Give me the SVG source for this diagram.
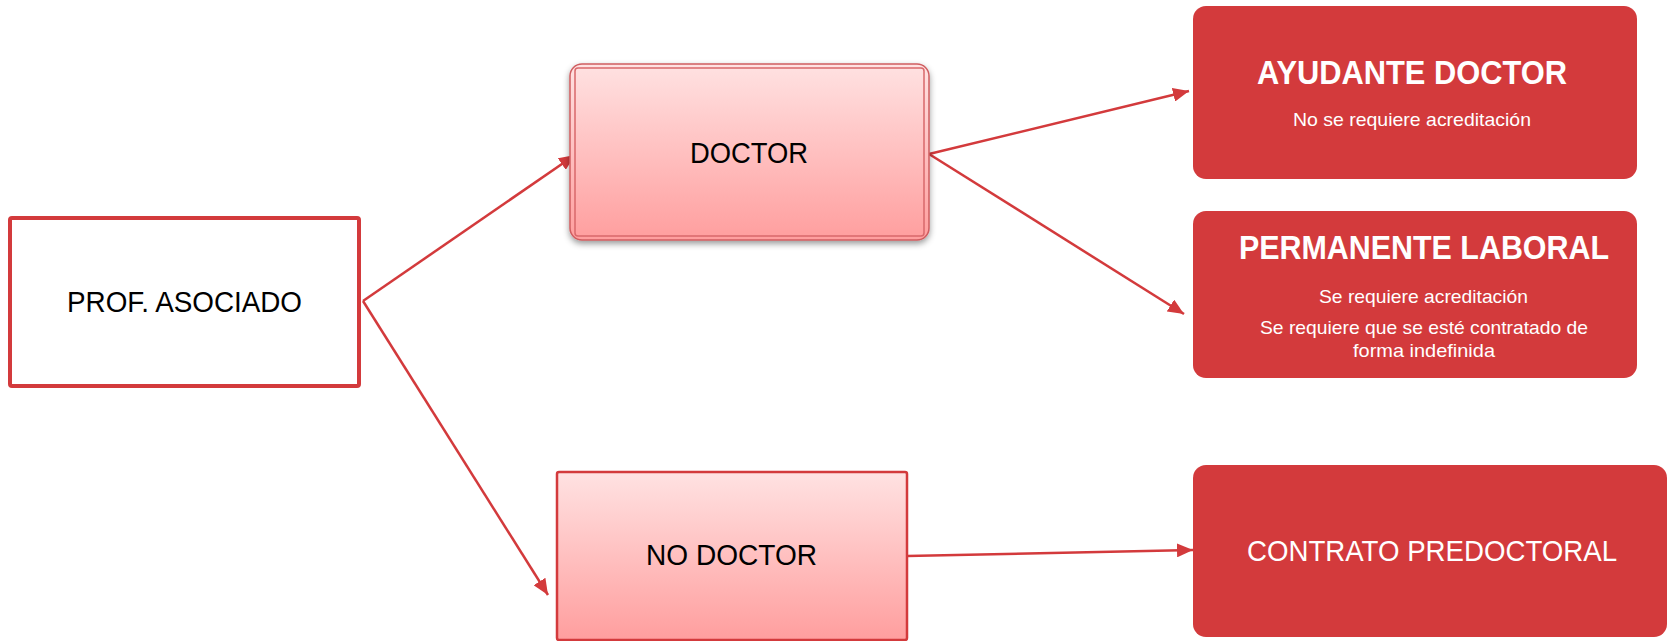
<svg xmlns="http://www.w3.org/2000/svg" width="1668" height="641" viewBox="0 0 1668 641">
  <style>
    .lbl { font-family: "Liberation Sans", Arial, sans-serif; fill: #000000; }
    .wt { font-family: "Liberation Sans", Arial, sans-serif; fill: #FFFFFF; }
    .bold { font-weight: bold; }
    .red { fill: #D33A3C; }
    .conn { stroke: #D33A3C; stroke-width: 2.5; fill: none; marker-end: url(#arrow); }
  </style>
  <defs>
    <linearGradient id="pink" x1="0" y1="0" x2="0" y2="1">
      <stop offset="0" stop-color="#FFE2E2"/>
      <stop offset="0.5" stop-color="#FFC0C0"/>
      <stop offset="1" stop-color="#FF9E9E"/>
    </linearGradient>
    <filter id="shadow" x="-10%" y="-10%" width="120%" height="130%">
      <feDropShadow dx="0" dy="3" stdDeviation="3" flood-color="#000000" flood-opacity="0.4"/>
    </filter>
    <marker id="arrow" viewBox="0 0 16 14" refX="16" refY="7" markerWidth="16" markerHeight="14" markerUnits="userSpaceOnUse" orient="auto">
      <path d="M0,0 L16,7 L0,14 Z" fill="#D33A3C"/>
    </marker>
  </defs>

  <rect width="1668" height="641" fill="#FFFFFF"/>

  <g id="connectors">
    <line class="conn" x1="363" y1="301" x2="575" y2="155"/>
    <line class="conn" x1="363" y1="301" x2="548" y2="595"/>
    <line class="conn" x1="929" y1="154" x2="1189" y2="91"/>
    <line class="conn" x1="929" y1="154" x2="1184" y2="314"/>
    <line class="conn" x1="907" y1="556" x2="1193" y2="550"/>
  </g>

  <g id="prof-asociado">
    <rect x="10" y="218" width="349" height="168" rx="2" fill="#FFFFFF" stroke="#D33A3C" stroke-width="4"/>
    <text class="lbl" x="67" y="312" font-size="30" textLength="235" lengthAdjust="spacingAndGlyphs">PROF. ASOCIADO</text>
  </g>

  <g id="doctor">
    <rect x="570" y="64" width="359" height="176" rx="12" fill="url(#pink)" stroke="#CF5D60" stroke-width="1.5" filter="url(#shadow)"/>
    <rect x="575" y="68" width="349" height="168" rx="3" fill="none" stroke="#D9686B" stroke-width="1.5"/>
    <text class="lbl" x="690" y="163" font-size="29" textLength="118" lengthAdjust="spacingAndGlyphs">DOCTOR</text>
  </g>

  <g id="no-doctor">
    <rect x="557" y="472" width="350" height="168" rx="2" fill="url(#pink)" stroke="#D33A3C" stroke-width="2.5"/>
    <text class="lbl" x="646" y="565" font-size="29" textLength="171" lengthAdjust="spacingAndGlyphs">NO DOCTOR</text>
  </g>

  <g id="ayudante-doctor">
    <rect class="red" x="1193" y="6" width="444" height="173" rx="13"/>
    <text class="wt bold" x="1257" y="84" font-size="33" textLength="310" lengthAdjust="spacingAndGlyphs">AYUDANTE DOCTOR</text>
    <text class="wt" x="1293" y="126" font-size="19" textLength="238" lengthAdjust="spacingAndGlyphs">No se requiere acreditación</text>
  </g>

  <g id="permanente-laboral">
    <rect class="red" x="1193" y="211" width="444" height="167" rx="13"/>
    <text class="wt bold" x="1239" y="259" font-size="33" textLength="370" lengthAdjust="spacingAndGlyphs">PERMANENTE LABORAL</text>
    <text class="wt" x="1319" y="303" font-size="19" textLength="209" lengthAdjust="spacingAndGlyphs">Se requiere acreditación</text>
    <text class="wt" x="1260" y="334" font-size="19" textLength="328" lengthAdjust="spacingAndGlyphs">Se requiere que se esté contratado de</text>
    <text class="wt" x="1353" y="357" font-size="19" textLength="142" lengthAdjust="spacingAndGlyphs">forma indefinida</text>
  </g>

  <g id="contrato-predoctoral">
    <rect class="red" x="1193" y="465" width="474" height="172" rx="13"/>
    <text class="wt" x="1247" y="561" font-size="30" textLength="370" lengthAdjust="spacingAndGlyphs">CONTRATO PREDOCTORAL</text>
  </g>
</svg>
